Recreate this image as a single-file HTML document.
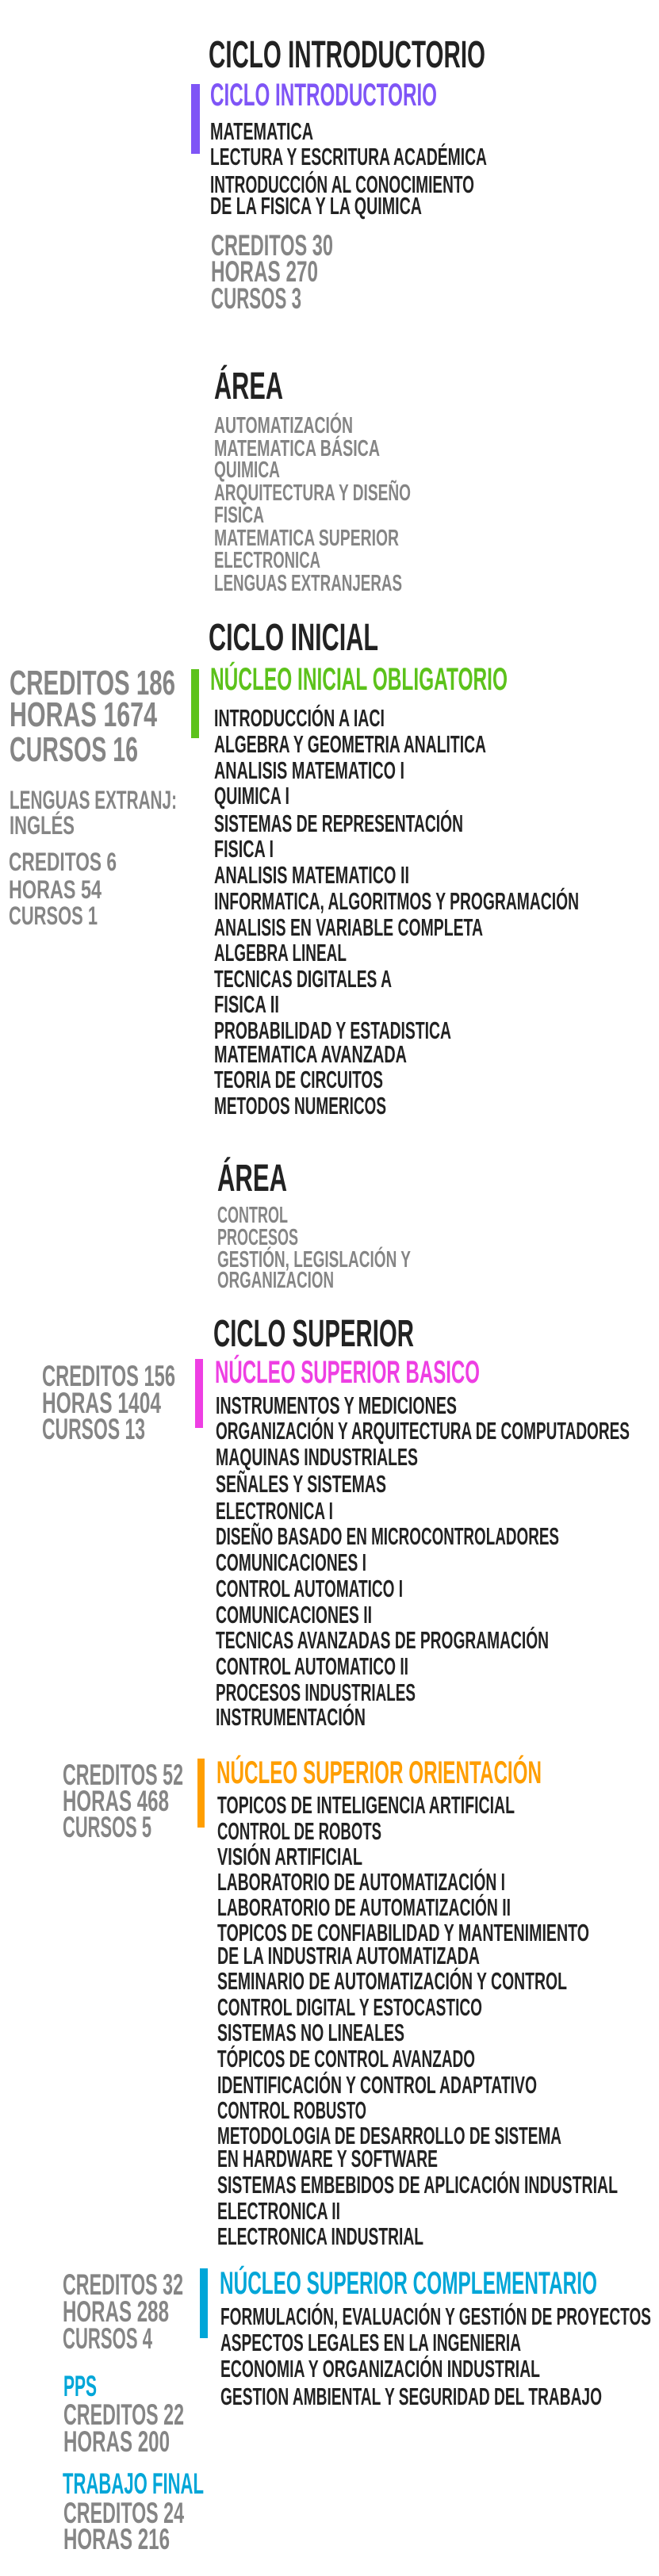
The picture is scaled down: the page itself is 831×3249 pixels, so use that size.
<!DOCTYPE html>
<html><head><meta charset="utf-8"><style>
html,body{margin:0;padding:0;background:#fff;}
svg{display:block;}
text{font-family:"Liberation Sans Narrow","Liberation Sans",sans-serif;font-weight:bold;}
.t{font-size:48px;fill:#222;}
.n{font-size:40px;}
.c{font-size:31px;fill:#222;}
.a{font-size:29px;fill:#858585;}
.sb{font-size:44px;fill:#858585;}
.s{font-size:37px;fill:#858585;}
.ss{font-size:32px;fill:#858585;}
</style></head><body>
<svg width="831" height="3249" viewBox="0 0 831 3249" xmlns="http://www.w3.org/2000/svg" lengthAdjust="spacingAndGlyphs">
<!-- CICLO INTRODUCTORIO -->
<text class="t" x="263" y="85" textLength="349" lengthAdjust="spacingAndGlyphs">CICLO INTRODUCTORIO</text>
<rect x="241" y="106" width="11" height="88" fill="#7f55f6"/>
<text class="n" x="265" y="133" textLength="286" lengthAdjust="spacingAndGlyphs" fill="#7f55f6">CICLO INTRODUCTORIO</text>
<text class="c" x="265" y="176" textLength="130" lengthAdjust="spacingAndGlyphs">MATEMATICA</text>
<text class="c" x="265" y="208" textLength="349" lengthAdjust="spacingAndGlyphs">LECTURA Y ESCRITURA ACADÉMICA</text>
<text class="c" x="265" y="243" textLength="333" lengthAdjust="spacingAndGlyphs">INTRODUCCIÓN AL CONOCIMIENTO</text>
<text class="c" x="265" y="270" textLength="267" lengthAdjust="spacingAndGlyphs">DE LA FISICA Y LA QUIMICA</text>
<text class="s" x="266" y="322" textLength="154" lengthAdjust="spacingAndGlyphs">CREDITOS 30</text>
<text class="s" x="266" y="355" textLength="135" lengthAdjust="spacingAndGlyphs">HORAS 270</text>
<text class="s" x="266" y="389" textLength="114" lengthAdjust="spacingAndGlyphs">CURSOS 3</text>

<text class="t" x="270" y="503" textLength="87" lengthAdjust="spacingAndGlyphs">ÁREA</text>
<text class="a" x="270" y="546" textLength="175" lengthAdjust="spacingAndGlyphs">AUTOMATIZACIÓN</text>
<text class="a" x="270" y="575" textLength="209" lengthAdjust="spacingAndGlyphs">MATEMATICA BÁSICA</text>
<text class="a" x="270" y="602" textLength="83" lengthAdjust="spacingAndGlyphs">QUIMICA</text>
<text class="a" x="270" y="631" textLength="248" lengthAdjust="spacingAndGlyphs">ARQUITECTURA Y DISEÑO</text>
<text class="a" x="270" y="659" textLength="63" lengthAdjust="spacingAndGlyphs">FISICA</text>
<text class="a" x="270" y="688" textLength="233" lengthAdjust="spacingAndGlyphs">MATEMATICA SUPERIOR</text>
<text class="a" x="270" y="716" textLength="134" lengthAdjust="spacingAndGlyphs">ELECTRONICA</text>
<text class="a" x="270" y="745" textLength="237" lengthAdjust="spacingAndGlyphs">LENGUAS EXTRANJERAS</text>

<!-- CICLO INICIAL -->
<text class="t" x="263" y="820" textLength="214" lengthAdjust="spacingAndGlyphs">CICLO INICIAL</text>
<rect x="241" y="844" width="10" height="87" fill="#5cc21b"/>
<text class="n" x="265" y="870" textLength="375" lengthAdjust="spacingAndGlyphs" fill="#5cc21b">NÚCLEO INICIAL OBLIGATORIO</text>
<text class="sb" x="12" y="876" textLength="209" lengthAdjust="spacingAndGlyphs">CREDITOS 186</text>
<text class="sb" x="12" y="916" textLength="186" lengthAdjust="spacingAndGlyphs">HORAS 1674</text>
<text class="sb" x="12" y="960" textLength="162" lengthAdjust="spacingAndGlyphs">CURSOS 16</text>
<text class="ss" x="12" y="1020" textLength="211" lengthAdjust="spacingAndGlyphs">LENGUAS EXTRANJ:</text>
<text class="ss" x="12" y="1052" textLength="82" lengthAdjust="spacingAndGlyphs">INGLÉS</text>
<text class="ss" x="11" y="1098" textLength="136" lengthAdjust="spacingAndGlyphs">CREDITOS 6</text>
<text class="ss" x="11" y="1133" textLength="117" lengthAdjust="spacingAndGlyphs">HORAS 54</text>
<text class="ss" x="11" y="1166" textLength="112" lengthAdjust="spacingAndGlyphs">CURSOS 1</text>

<text class="c" x="270" y="916" textLength="215" lengthAdjust="spacingAndGlyphs">INTRODUCCIÓN A IACI</text>
<text class="c" x="270" y="949" textLength="343" lengthAdjust="spacingAndGlyphs">ALGEBRA Y GEOMETRIA ANALITICA</text>
<text class="c" x="270" y="982" textLength="240" lengthAdjust="spacingAndGlyphs">ANALISIS MATEMATICO I</text>
<text class="c" x="270" y="1014" textLength="95" lengthAdjust="spacingAndGlyphs">QUIMICA I</text>
<text class="c" x="270" y="1049" textLength="314" lengthAdjust="spacingAndGlyphs">SISTEMAS DE REPRESENTACIÓN</text>
<text class="c" x="270" y="1081" textLength="75" lengthAdjust="spacingAndGlyphs">FISICA I</text>
<text class="c" x="270" y="1114" textLength="246" lengthAdjust="spacingAndGlyphs">ANALISIS MATEMATICO II</text>
<text class="c" x="270" y="1147" textLength="460" lengthAdjust="spacingAndGlyphs">INFORMATICA, ALGORITMOS Y PROGRAMACIÓN</text>
<text class="c" x="270" y="1180" textLength="339" lengthAdjust="spacingAndGlyphs">ANALISIS EN VARIABLE COMPLETA</text>
<text class="c" x="270" y="1212" textLength="167" lengthAdjust="spacingAndGlyphs">ALGEBRA LINEAL</text>
<text class="c" x="270" y="1245" textLength="224" lengthAdjust="spacingAndGlyphs">TECNICAS DIGITALES A</text>
<text class="c" x="270" y="1277" textLength="82" lengthAdjust="spacingAndGlyphs">FISICA II</text>
<text class="c" x="270" y="1310" textLength="299" lengthAdjust="spacingAndGlyphs">PROBABILIDAD Y ESTADISTICA</text>
<text class="c" x="270" y="1340" textLength="243" lengthAdjust="spacingAndGlyphs">MATEMATICA AVANZADA</text>
<text class="c" x="270" y="1372" textLength="213" lengthAdjust="spacingAndGlyphs">TEORIA DE CIRCUITOS</text>
<text class="c" x="270" y="1405" textLength="217" lengthAdjust="spacingAndGlyphs">METODOS NUMERICOS</text>

<text class="t" x="274" y="1502" textLength="88" lengthAdjust="spacingAndGlyphs">ÁREA</text>
<text class="a" x="274" y="1542" textLength="89" lengthAdjust="spacingAndGlyphs">CONTROL</text>
<text class="a" x="274" y="1570" textLength="102" lengthAdjust="spacingAndGlyphs">PROCESOS</text>
<text class="a" x="274" y="1598" textLength="244" lengthAdjust="spacingAndGlyphs">GESTIÓN, LEGISLACIÓN Y</text>
<text class="a" x="274" y="1624" textLength="147" lengthAdjust="spacingAndGlyphs">ORGANIZACION</text>

<!-- CICLO SUPERIOR -->
<text class="t" x="269" y="1698" textLength="253" lengthAdjust="spacingAndGlyphs">CICLO SUPERIOR</text>
<rect x="246" y="1714" width="10" height="87" fill="#ee3fe3"/>
<text class="n" x="271" y="1744" textLength="334" lengthAdjust="spacingAndGlyphs" fill="#ee3fe3">NÚCLEO SUPERIOR BASICO</text>
<text class="s" x="53" y="1748" textLength="168" lengthAdjust="spacingAndGlyphs">CREDITOS 156</text>
<text class="s" x="53" y="1782" textLength="150" lengthAdjust="spacingAndGlyphs">HORAS 1404</text>
<text class="s" x="53" y="1815" textLength="130" lengthAdjust="spacingAndGlyphs">CURSOS 13</text>

<text class="c" x="272" y="1783" textLength="304" lengthAdjust="spacingAndGlyphs">INSTRUMENTOS Y MEDICIONES</text>
<text class="c" x="272" y="1815" textLength="522" lengthAdjust="spacingAndGlyphs">ORGANIZACIÓN Y ARQUITECTURA DE COMPUTADORES</text>
<text class="c" x="272" y="1848" textLength="255" lengthAdjust="spacingAndGlyphs">MAQUINAS INDUSTRIALES</text>
<text class="c" x="272" y="1882" textLength="215" lengthAdjust="spacingAndGlyphs">SEÑALES Y SISTEMAS</text>
<text class="c" x="272" y="1916" textLength="148" lengthAdjust="spacingAndGlyphs">ELECTRONICA I</text>
<text class="c" x="272" y="1948" textLength="433" lengthAdjust="spacingAndGlyphs">DISEÑO BASADO EN MICROCONTROLADORES</text>
<text class="c" x="272" y="1981" textLength="190" lengthAdjust="spacingAndGlyphs">COMUNICACIONES I</text>
<text class="c" x="272" y="2014" textLength="236" lengthAdjust="spacingAndGlyphs">CONTROL AUTOMATICO I</text>
<text class="c" x="272" y="2047" textLength="197" lengthAdjust="spacingAndGlyphs">COMUNICACIONES II</text>
<text class="c" x="272" y="2079" textLength="420" lengthAdjust="spacingAndGlyphs">TECNICAS AVANZADAS DE PROGRAMACIÓN</text>
<text class="c" x="272" y="2112" textLength="243" lengthAdjust="spacingAndGlyphs">CONTROL AUTOMATICO II</text>
<text class="c" x="272" y="2145" textLength="252" lengthAdjust="spacingAndGlyphs">PROCESOS INDUSTRIALES</text>
<text class="c" x="272" y="2176" textLength="189" lengthAdjust="spacingAndGlyphs">INSTRUMENTACIÓN</text>

<rect x="249" y="2218" width="9" height="87" fill="#ff9e00"/>
<text class="n" x="273" y="2249" textLength="410" lengthAdjust="spacingAndGlyphs" fill="#ff9e00">NÚCLEO SUPERIOR ORIENTACIÓN</text>
<text class="s" x="79" y="2251" textLength="152" lengthAdjust="spacingAndGlyphs">CREDITOS 52</text>
<text class="s" x="79" y="2284" textLength="134" lengthAdjust="spacingAndGlyphs">HORAS 468</text>
<text class="s" x="79" y="2317" textLength="112" lengthAdjust="spacingAndGlyphs">CURSOS 5</text>

<text class="c" x="274" y="2287" textLength="375" lengthAdjust="spacingAndGlyphs">TOPICOS DE INTELIGENCIA ARTIFICIAL</text>
<text class="c" x="274" y="2320" textLength="207" lengthAdjust="spacingAndGlyphs">CONTROL DE ROBOTS</text>
<text class="c" x="274" y="2352" textLength="183" lengthAdjust="spacingAndGlyphs">VISIÓN ARTIFICIAL</text>
<text class="c" x="274" y="2384" textLength="363" lengthAdjust="spacingAndGlyphs">LABORATORIO DE AUTOMATIZACIÓN I</text>
<text class="c" x="274" y="2416" textLength="370" lengthAdjust="spacingAndGlyphs">LABORATORIO DE AUTOMATIZACIÓN II</text>
<text class="c" x="274" y="2448" textLength="469" lengthAdjust="spacingAndGlyphs">TOPICOS DE CONFIABILIDAD Y MANTENIMIENTO</text>
<text class="c" x="274" y="2477" textLength="331" lengthAdjust="spacingAndGlyphs">DE LA INDUSTRIA AUTOMATIZADA</text>
<text class="c" x="274" y="2509" textLength="441" lengthAdjust="spacingAndGlyphs">SEMINARIO DE AUTOMATIZACIÓN Y CONTROL</text>
<text class="c" x="274" y="2542" textLength="334" lengthAdjust="spacingAndGlyphs">CONTROL DIGITAL Y ESTOCASTICO</text>
<text class="c" x="274" y="2574" textLength="236" lengthAdjust="spacingAndGlyphs">SISTEMAS NO LINEALES</text>
<text class="c" x="274" y="2607" textLength="325" lengthAdjust="spacingAndGlyphs">TÓPICOS DE CONTROL AVANZADO</text>
<text class="c" x="274" y="2640" textLength="403" lengthAdjust="spacingAndGlyphs">IDENTIFICACIÓN Y CONTROL ADAPTATIVO</text>
<text class="c" x="274" y="2672" textLength="188" lengthAdjust="spacingAndGlyphs">CONTROL ROBUSTO</text>
<text class="c" x="274" y="2704" textLength="434" lengthAdjust="spacingAndGlyphs">METODOLOGIA DE DESARROLLO DE SISTEMA</text>
<text class="c" x="274" y="2733" textLength="278" lengthAdjust="spacingAndGlyphs">EN HARDWARE Y SOFTWARE</text>
<text class="c" x="274" y="2766" textLength="505" lengthAdjust="spacingAndGlyphs">SISTEMAS EMBEBIDOS DE APLICACIÓN INDUSTRIAL</text>
<text class="c" x="274" y="2799" textLength="155" lengthAdjust="spacingAndGlyphs">ELECTRONICA II</text>
<text class="c" x="274" y="2831" textLength="260" lengthAdjust="spacingAndGlyphs">ELECTRONICA INDUSTRIAL</text>

<rect x="252" y="2861" width="10" height="88" fill="#00a6d8"/>
<text class="n" x="277" y="2893" textLength="476" lengthAdjust="spacingAndGlyphs" fill="#00a6d8">NÚCLEO SUPERIOR COMPLEMENTARIO</text>
<text class="c" x="278" y="2932" textLength="543" lengthAdjust="spacingAndGlyphs">FORMULACIÓN, EVALUACIÓN Y GESTIÓN DE PROYECTOS</text>
<text class="c" x="278" y="2965" textLength="379" lengthAdjust="spacingAndGlyphs">ASPECTOS LEGALES EN LA INGENIERIA</text>
<text class="c" x="278" y="2998" textLength="403" lengthAdjust="spacingAndGlyphs">ECONOMIA Y ORGANIZACIÓN INDUSTRIAL</text>
<text class="c" x="278" y="3033" textLength="481" lengthAdjust="spacingAndGlyphs">GESTION AMBIENTAL Y SEGURIDAD DEL TRABAJO</text>

<text class="s" x="79" y="2894" textLength="152" lengthAdjust="spacingAndGlyphs">CREDITOS 32</text>
<text class="s" x="79" y="2928" textLength="134" lengthAdjust="spacingAndGlyphs">HORAS 288</text>
<text class="s" x="79" y="2962" textLength="113" lengthAdjust="spacingAndGlyphs">CURSOS 4</text>
<text class="s" x="80" y="3022" textLength="42" lengthAdjust="spacingAndGlyphs" style="fill:#00a6d8">PPS</text>
<text class="s" x="80" y="3058" textLength="152" lengthAdjust="spacingAndGlyphs">CREDITOS 22</text>
<text class="s" x="80" y="3092" textLength="134" lengthAdjust="spacingAndGlyphs">HORAS 200</text>
<text class="s" x="79" y="3145" textLength="178" lengthAdjust="spacingAndGlyphs" style="fill:#00a6d8">TRABAJO FINAL</text>
<text class="s" x="80" y="3182" textLength="152" lengthAdjust="spacingAndGlyphs">CREDITOS 24</text>
<text class="s" x="80" y="3215" textLength="134" lengthAdjust="spacingAndGlyphs">HORAS 216</text>
</svg>
</body></html>
